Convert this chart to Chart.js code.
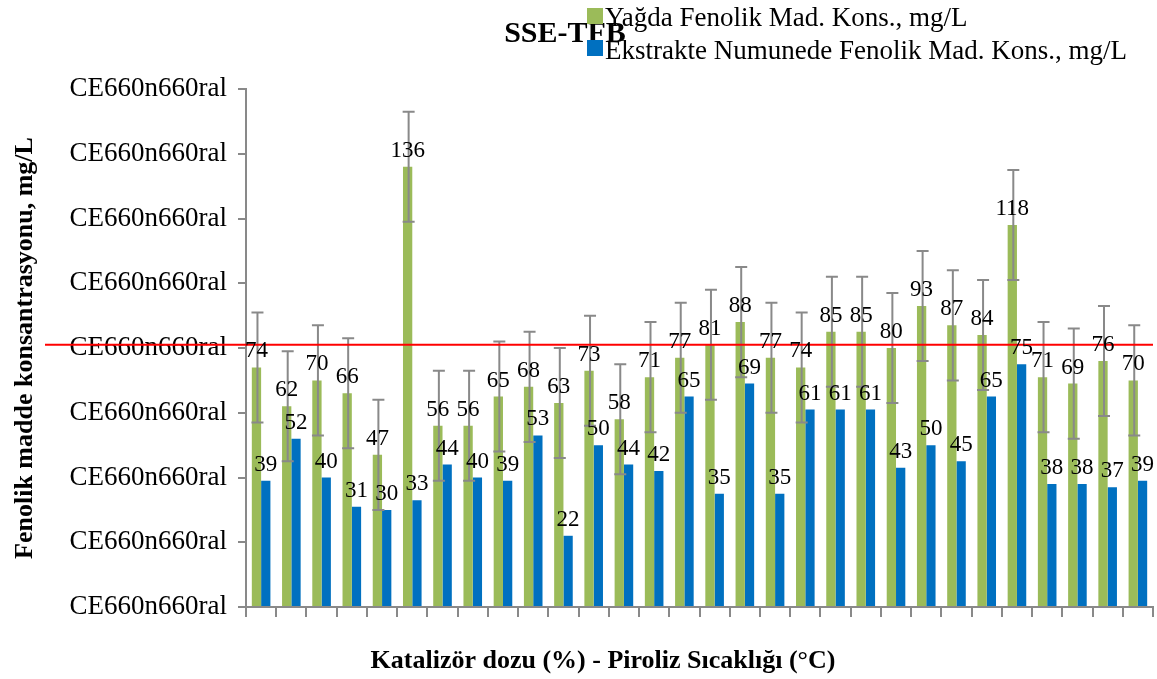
<!DOCTYPE html>
<html>
<head>
<meta charset="utf-8">
<title>SSE-TFB</title>
<script src="https://cdn.jsdelivr.net/npm/chart.js@4/dist/chart.umd.min.js"></script>
<style>
  html, body { margin: 0; padding: 0; background: #ffffff; }
  canvas { display: block; }
</style>
</head>
<body>
<canvas id="chart" width="1157" height="679"></canvas>
<script>
// Category names are not printed on the x axis, only tick marks
const categories = ['1', '2', '3', '4', '5', '6', '7', '8', '9', '10',
    '11', '12', '13', '14', '15', '16', '17', '18', '19', '20',
    '21', '22', '23', '24', '25', '26', '27', '28', '29', '30'];

const yagdaValues = [74, 62, 70, 66, 47, 136, 56, 56, 65, 68, 63, 73, 58, 71, 77,
    81, 88, 77, 74, 85, 85, 80, 93, 87, 84, 118, 71, 69, 76, 70];

const ekstraktValues = [39, 52, 40, 31, 30, 33, 44, 40, 39, 53, 22, 50, 44, 42, 65,
    35, 69, 35, 61, 61, 61, 43, 50, 45, 65, 75, 38, 38, 37, 39];

// error bars on the green series (+/-)
const yagdaErrors = [17, 17, 17, 17, 17, 17, 17, 17, 17, 17, 17, 17, 17, 17, 17,
    17, 17, 17, 17, 17, 17, 17, 17, 17, 17, 17, 17, 17, 17, 17];

const yTickLabels = ['CE660n660ral', 'CE660n660ral', 'CE660n660ral', 'CE660n660ral',
    'CE660n660ral', 'CE660n660ral', 'CE660n660ral', 'CE660n660ral', 'CE660n660ral'];

const referenceLine = 81;

const GREEN = '#9BBB59';
const BLUE = '#0070C0';
const AXIS = '#898989';
const SERIF = '"Liberation Serif", "Times New Roman", serif';

const overlayPlugin = {
    id: 'overlay',
    afterDatasetsDraw(chart) {
        const ctx = chart.ctx;
        const y = chart.scales.y;

        // error bars
        ctx.save();
        ctx.strokeStyle = AXIS;
        ctx.lineWidth = 2;
        chart.getDatasetMeta(0).data.forEach((bar, i) => {
            const top = y.getPixelForValue(yagdaValues[i] + yagdaErrors[i]);
            const bot = y.getPixelForValue(yagdaValues[i] - yagdaErrors[i]);
            const x = bar.x + 1;
            ctx.beginPath();
            ctx.moveTo(x, top); ctx.lineTo(x, bot);
            ctx.moveTo(x - 6, top); ctx.lineTo(x + 6, top);
            ctx.moveTo(x - 6, bot); ctx.lineTo(x + 6, bot);
            ctx.stroke();
        });

        // red horizontal line
        const ry = y.getPixelForValue(referenceLine);
        ctx.strokeStyle = '#FF0000';
        ctx.lineWidth = 2;
        ctx.beginPath();
        ctx.moveTo(45, ry);
        ctx.lineTo(chart.chartArea.right, ry);
        ctx.stroke();

        // value labels
        ctx.fillStyle = '#000';
        ctx.font = '23px ' + SERIF;
        ctx.textAlign = 'center';
        ctx.textBaseline = 'alphabetic';
        [yagdaValues, ekstraktValues].forEach((values, d) => {
            chart.getDatasetMeta(d).data.forEach((bar, i) => {
                ctx.fillText(String(values[i]), bar.x, bar.y - 10);
            });
        });
        ctx.restore();
    },
    afterDraw(chart) {
        const ctx = chart.ctx;
        ctx.save();
        ctx.fillStyle = '#000';

        // title
        ctx.font = 'bold 30px ' + SERIF;
        ctx.textAlign = 'center';
        ctx.textBaseline = 'alphabetic';
        ctx.fillText('SSE-TFB', 565, 42);

        // legend
        ctx.fillStyle = GREEN;
        ctx.fillRect(587, 8, 16, 16);
        ctx.fillStyle = BLUE;
        ctx.fillRect(587, 40, 16, 16);
        ctx.fillStyle = '#000';
        ctx.font = '27px ' + SERIF;
        ctx.textAlign = 'left';
        ctx.fillText('Yağda Fenolik Mad. Kons., mg/L', 605, 26);
        ctx.fillText('Ekstrakte Numunede Fenolik Mad. Kons., mg/L', 605, 59);

        // axis titles
        ctx.font = 'bold 26px ' + SERIF;
        ctx.textAlign = 'center';
        ctx.fillText('Katalizör dozu (%) - Piroliz Sıcaklığı (°C)', 603, 668);

        const area = chart.chartArea;
        ctx.translate(32, (area.top + area.bottom) / 2);
        ctx.rotate(-Math.PI / 2);
        ctx.font = 'bold 26px ' + SERIF;
        ctx.fillText('Fenolik madde konsantrasyonu, mg/L', 0, 0);
        ctx.restore();
    }
};

new Chart(document.getElementById('chart'), {
    type: 'bar',
    data: {
        labels: categories,
        datasets: [{
            label: 'Yağda Fenolik Mad. Kons., mg/L',
            data: yagdaValues,
            backgroundColor: GREEN,
            borderWidth: 0,
            barPercentage: 1,
            categoryPercentage: 0.615
        }, {
            label: 'Ekstrakte Numunede Fenolik Mad. Kons., mg/L',
            data: ekstraktValues,
            backgroundColor: BLUE,
            borderWidth: 0,
            barPercentage: 1,
            categoryPercentage: 0.615
        }]
    },
    options: {
        responsive: false,
        animation: false,
        layout: { padding: { top: 89, right: 4, left: 0, bottom: 0 } },
        plugins: {
            legend: { display: false },
            title: { display: false },
            tooltip: { enabled: false }
        },
        scales: {
            x: {
                ticks: { display: false },
                grid: {
                    drawOnChartArea: false,
                    drawTicks: true,
                    tickLength: 10,
                    color: AXIS,
                    lineWidth: 2,
                    offset: true
                },
                border: { color: AXIS, width: 2 },
                afterFit(scale) { scale.height = 72; }
            },
            y: {
                min: 0,
                max: 160,
                ticks: {
                    stepSize: 20,
                    callback: (value, i) => yTickLabels[i],
                    font: { family: SERIF, size: 27 },
                    color: '#000',
                    padding: 11
                },
                grid: {
                    drawOnChartArea: false,
                    drawTicks: true,
                    tickLength: 8,
                    color: AXIS,
                    lineWidth: 2
                },
                border: { color: AXIS, width: 2 },
                afterFit(scale) { scale.width = 246; }
            }
        }
    },
    plugins: [overlayPlugin]
});
</script>
</body>
</html>
